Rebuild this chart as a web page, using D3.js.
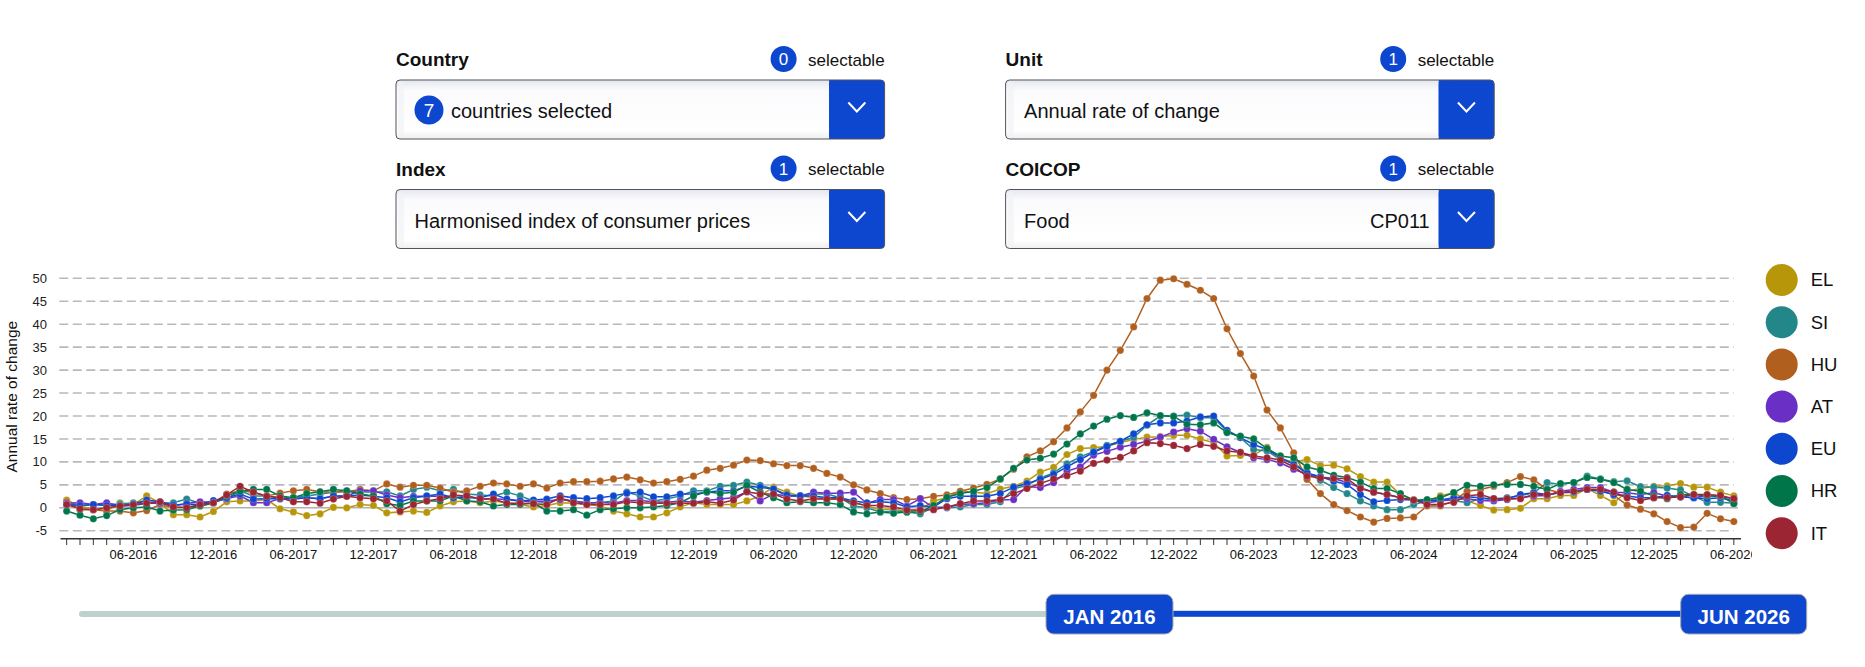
<!DOCTYPE html>
<html>
<head>
<meta charset="utf-8">
<script src="https://cdn.jsdelivr.net/npm/d3@7"></script>
<style>
  html, body { margin: 0; padding: 0; background: #fff; }
  body { width: 1865px; height: 667px; overflow: hidden; font-family: "Liberation Sans", Arial, Helvetica, sans-serif; }
  svg { display: block; }
</style>
</head>
<body>
<svg id="page" width="1865" height="667"></svg>
<script>
// ---------------- DATA ----------------
const countries = ["EL", "SI", "HU", "AT", "EU", "HR", "IT"];
const seriesColors = ["#b8960a", "#23878a", "#b05f1e", "#6a2fc4", "#0e47cf", "#00754a", "#9b2532"];
const monthStart = new Date(2016, 0, 1);
const monthEnd = new Date(2026, 6, 1);   // exclusive: Jan 2016 .. Jun 2026
const yTicks = [-5, 0, 5, 10, 15, 20, 25, 30, 35, 40, 45, 50];
const xTickLabels = ["06-2016","12-2016","06-2017","12-2017","06-2018","12-2018","06-2019","12-2019",
  "06-2020","12-2020","06-2021","12-2021","06-2022","12-2022","06-2023","12-2023","06-2024","12-2024",
  "06-2025","12-2025","06-2026"];

const EL = [
  1.7,0.3,-0.2,-0.7,1.1,0.7,2.6,1.1,-1.5,-1.5,-2.0,-0.8,
  1.3,1.5,1.5,1.8,-0.2,-0.9,-1.7,-1.3,0.1,0.0,0.7,0.5,
  -1.1,-0.9,-0.7,-1.0,0.4,1.3,1.5,1.1,1.5,1.1,0.7,0.2,
  0.5,1.1,1.0,0.7,0.4,-0.7,-1.3,-2.0,-2.0,-1.1,0.2,1.1,
  0.7,0.7,0.7,1.5,2.6,4.5,3.4,2.6,2.2,1.9,1.9,1.1,
  0.4,-0.4,-0.2,-0.9,-0.4,1.5,2.2,3.6,3.4,3.1,4.1,4.7,
  5.8,7.8,8.8,11.6,12.9,13.1,13.4,14.2,14.9,15.4,15.5,15.8,
  15.8,15.0,14.2,11.3,11.4,11.5,13.2,10.7,10.0,10.5,9.2,9.3,
  8.5,6.8,5.6,5.6,2.9,1.8,1.5,2.6,3.3,1.5,0.5,-0.5,
  -0.4,-0.1,2.0,2.0,2.7,2.7,4.2,2.7,1.1,3.6,4.2,4.7,
  4.8,5.3,4.5,4.5,3.4,2.6];
const SI = [
  0.8,0.5,0.6,0.8,0.8,1.1,1.3,1.0,1.1,1.9,1.0,1.2,
  2.0,3.7,2.6,2.6,2.2,2.2,2.6,3.0,3.4,3.7,3.5,3.4,
  3.5,2.6,4.0,4.5,3.7,4.0,3.0,2.8,2.6,3.4,2.6,1.5,
  1.1,1.9,1.5,1.1,1.1,1.5,3.4,2.6,1.5,1.9,2.6,3.7,
  3.7,4.7,4.9,5.6,4.9,4.1,2.6,2.6,3.0,3.0,2.2,0.4,
  0.0,-0.9,-0.7,-0.9,-1.3,0.1,0.0,0.2,0.7,0.7,1.3,4.1,
  4.9,6.5,7.6,9.6,11.1,12.3,13.6,14.5,15.3,18.0,20.0,20.0,
  20.2,19.6,19.6,16.7,15.3,12.7,12.4,10.5,9.8,7.6,6.0,4.4,
  3.1,1.5,0.4,-0.4,-0.4,0.7,1.5,1.8,1.6,1.1,2.0,2.0,
  2.2,2.6,3.3,5.5,5.1,5.5,6.9,6.3,5.7,5.9,4.6,4.5,
  4.3,3.9,2.5,1.2,1.2,1.0];
const HU = [
  1.3,-0.4,-0.4,-0.7,-0.7,-1.1,-0.6,0.7,0.0,0.2,0.4,1.0,
  3.0,3.7,3.4,2.6,3.2,3.7,4.0,3.5,3.4,3.5,4.0,3.7,
  5.2,4.5,4.9,4.9,4.3,3.4,3.7,4.7,5.4,5.2,4.7,5.2,
  4.3,5.4,5.7,5.7,5.8,6.3,6.7,6.1,5.4,5.7,6.2,6.9,
  8.2,8.6,9.3,10.4,10.3,9.6,9.2,9.2,8.6,7.5,6.7,5.0,
  3.9,3.1,2.2,1.8,2.0,2.5,2.8,3.6,4.3,5.1,6.3,8.4,
  11.1,12.4,14.4,17.4,20.9,24.5,30.0,34.3,39.4,45.6,49.6,49.9,
  48.7,47.4,45.6,39.0,33.6,28.7,21.3,17.4,12.0,6.2,3.1,0.7,
  -0.6,-2.0,-3.1,-2.3,-2.2,-2.0,0.4,0.4,1.5,3.6,4.0,4.7,
  5.5,6.8,6.1,4.0,3.3,3.6,4.0,4.0,2.7,0.6,-0.3,-1.3,
  -3.0,-4.3,-4.2,-1.2,-2.4,-3.0];
const AT = [
  1.0,1.1,0.7,1.1,0.4,0.5,1.0,1.0,0.4,1.0,1.3,1.2,
  2.0,2.6,1.1,1.1,2.0,2.0,2.2,2.0,2.5,2.6,3.7,3.7,
  2.8,2.2,2.5,2.5,2.5,2.2,2.5,1.9,2.0,1.8,1.5,1.3,
  1.5,1.8,1.5,1.0,1.2,1.0,1.6,1.6,1.3,1.2,1.5,1.2,
  1.6,1.9,2.2,3.5,1.5,3.0,2.6,2.6,3.4,3.2,3.2,3.4,
  1.0,1.8,1.8,0.4,2.0,0.0,0.2,0.7,0.9,1.1,1.7,1.8,
  4.7,4.4,5.5,8.0,8.9,11.5,12.3,13.2,13.8,14.5,15.4,16.5,
  17.2,16.7,14.9,13.3,12.1,10.9,10.5,9.8,8.4,7.3,6.7,6.4,
  5.5,4.4,3.4,2.9,2.2,1.6,1.1,1.5,1.8,2.0,1.6,1.5,
  1.8,2.2,2.6,2.7,3.6,4.0,4.4,4.4,3.4,3.3,2.9,3.3,
  2.6,2.4,2.2,2.7,2.4,2.0];
const EU = [
  0.7,0.5,0.7,0.5,0.5,0.8,1.7,1.3,0.6,0.8,0.7,1.6,
  2.2,3.0,1.9,2.0,2.0,1.9,2.2,2.0,2.6,2.6,2.8,2.5,
  2.2,1.3,2.2,2.6,3.0,2.2,2.2,2.2,3.0,1.9,1.5,1.7,
  1.9,2.6,2.2,2.0,2.2,2.6,3.2,3.4,2.4,2.4,3.0,3.0,
  3.4,3.7,3.7,4.7,4.5,4.1,2.8,2.6,2.6,2.2,2.2,1.5,
  1.1,1.3,1.1,0.2,0.5,0.2,2.0,2.5,2.5,2.5,3.1,4.5,
  5.3,6.2,7.3,8.9,10.5,12.1,13.4,14.5,16.1,18.1,18.5,18.5,
  18.9,19.8,20.0,16.9,15.3,13.8,12.7,11.0,9.4,7.6,6.8,5.8,
  5.1,2.9,1.3,1.6,1.8,1.7,1.5,1.7,2.2,2.4,2.2,1.8,
  2.0,2.9,3.3,2.9,3.3,3.4,4.0,3.6,2.9,2.6,2.2,2.2,
  2.7,2.4,2.2,2.0,2.2,1.5];
const HR = [
  -0.7,-1.6,-2.4,-1.7,-0.4,0.0,0.2,-0.7,-0.5,-0.4,0.4,1.1,
  2.6,3.6,4.0,4.0,2.6,2.2,3.1,3.5,4.0,3.7,3.0,2.6,
  0.9,0.5,1.5,1.5,1.5,2.6,1.5,1.3,0.4,0.7,0.7,1.1,
  -0.7,-0.7,-0.4,-1.6,-0.4,-0.2,0.0,0.0,0.2,0.5,1.1,2.6,
  3.5,3.1,3.4,4.9,3.4,2.2,1.1,1.3,1.1,1.1,0.7,-0.9,
  -1.3,-0.9,-1.2,-0.9,-0.9,0.5,2.3,3.1,3.6,4.4,6.3,8.6,
  10.4,10.8,11.7,13.9,16.1,17.8,19.3,20.1,19.7,20.7,20.1,19.9,
  18.2,18.1,18.5,16.4,15.6,15.0,12.9,11.3,10.9,8.9,8.2,7.1,
  6.6,5.6,4.2,4.2,3.1,1.6,1.8,2.2,3.3,4.9,4.7,5.0,
  5.1,5.1,4.7,4.0,5.3,5.5,6.6,6.2,5.5,4.0,3.6,2.6,
  2.0,2.9,2.9,2.6,2.6,0.9];
const IT = [
  0.7,-0.2,-0.4,0.0,0.4,0.7,1.0,1.3,0.2,0.0,0.7,1.1,
  2.8,4.7,3.4,2.5,2.2,1.3,1.3,1.0,1.9,2.5,2.2,2.0,
  1.5,-0.7,0.7,1.5,2.0,2.8,2.6,2.0,1.9,1.0,1.0,0.9,
  0.7,2.2,1.1,0.7,0.7,0.7,1.3,1.1,1.0,1.0,1.0,1.0,
  1.3,1.0,1.7,3.5,3.0,3.0,1.9,1.5,2.0,1.9,1.9,1.1,
  0.5,0.5,0.2,-0.5,-0.5,-0.4,0.2,0.9,1.5,1.5,1.8,3.1,
  4.2,5.3,6.3,7.0,8.0,9.7,10.4,11.0,12.4,14.2,14.0,13.6,
  12.9,13.8,13.4,12.4,12.1,11.3,10.9,10.4,8.9,6.9,6.5,6.4,
  6.4,4.2,3.4,2.9,2.2,1.7,0.7,0.7,1.2,2.6,2.9,2.0,
  2.0,2.0,2.9,2.9,3.3,3.6,4.0,4.0,3.4,2.2,1.6,2.2,
  2.2,2.4,2.9,2.9,2.7,2.0];
const seriesValues = [EL, SI, HU, AT, EU, HR, IT];

// UI texts
const filters = [
  { label: "Country", count: "0", badge: "7", value: "countries selected", code: "" },
  { label: "Unit", count: "1", badge: null, value: "Annual rate of change", code: "" },
  { label: "Index", count: "1", badge: null, value: "Harmonised index of consumer prices", code: "" },
  { label: "COICOP", count: "1", badge: null, value: "Food", code: "CP011" }
];
const sliderLabels = ["JAN 2016", "JUN 2026"];
const yTitle = "Annual rate of change";

// ---------------- DRAW ----------------
const FONT = '"Liberation Sans", Arial, Helvetica, sans-serif';
const BLUE = "#0e47cf";
const svg = d3.select("#page").style("font-family", FONT);
const defs = svg.append("defs");

// box background gradient (inset look)
const g1 = defs.append("linearGradient").attr("id", "boxGrad").attr("x1", 0).attr("y1", 0).attr("x2", 0).attr("y2", 1);
g1.append("stop").attr("offset", "0%").attr("stop-color", "#e4e7ee");
g1.append("stop").attr("offset", "18%").attr("stop-color", "#fbfbfd");
g1.append("stop").attr("offset", "85%").attr("stop-color", "#ffffff");
g1.append("stop").attr("offset", "100%").attr("stop-color", "#eeeeef");

// ---- filters ----
const colX = [396, 1005.6];
const rowY = [0, 109.5];
const boxW = 488.6, boxH = 59, btnW = 55.5;
filters.forEach((f, k) => {
  const col = k % 2, row = Math.floor(k / 2);
  const x0 = colX[col], dy = rowY[row];
  const g = svg.append("g");
  g.append("text").attr("x", x0).attr("y", 66 + dy).attr("font-size", 19).attr("font-weight", "bold")
    .attr("fill", "#111").text(f.label);
  g.append("text").attr("x", x0 + boxW).attr("y", 65.5 + dy).attr("font-size", 17).attr("text-anchor", "end")
    .attr("fill", "#111").text("selectable");
  g.append("circle").attr("cx", x0 + boxW - 101).attr("cy", 59 + dy).attr("r", 13).attr("fill", BLUE);
  g.append("text").attr("x", x0 + boxW - 101).attr("y", 65 + dy).attr("font-size", 17).attr("text-anchor", "middle")
    .attr("fill", "#fff").text(f.count);
  const by = 80 + dy;
  g.append("rect").attr("x", x0).attr("y", by).attr("width", boxW).attr("height", boxH).attr("rx", 4)
    .attr("fill", "url(#boxGrad)");
  g.append("rect").attr("x", x0 + 2).attr("y", by + 2).attr("width", 6).attr("height", boxH - 4)
    .attr("fill", "#f1f2f5").attr("opacity", 0.7);
  g.append("rect").attr("x", x0 + boxW - btnW).attr("y", by).attr("width", btnW).attr("height", boxH).attr("rx", 4).attr("fill", BLUE);
  g.append("rect").attr("x", x0 + boxW - btnW).attr("y", by).attr("width", 10).attr("height", boxH).attr("fill", BLUE);
  g.append("rect").attr("x", x0).attr("y", by).attr("width", boxW).attr("height", boxH).attr("rx", 4)
    .attr("fill", "none").attr("stroke", "#50535a").attr("stroke-width", 1);
  const cx = x0 + boxW - btnW / 2, cy = by + 27;
  g.append("path").attr("d", `M${cx - 8.5},${cy - 4.5} L${cx},${cy + 4.5} L${cx + 8.5},${cy - 4.5}`)
    .attr("fill", "none").attr("stroke", "#fff").attr("stroke-width", 2);
  let tx = x0 + 18.5;
  if (f.badge) {
    g.append("circle").attr("cx", x0 + 33).attr("cy", by + 30).attr("r", 14.5).attr("fill", BLUE);
    g.append("text").attr("x", x0 + 33).attr("y", by + 37).attr("font-size", 19).attr("text-anchor", "middle")
      .attr("fill", "#fff").text(f.badge);
    tx = x0 + 55;
  }
  g.append("text").attr("x", tx).attr("y", by + 38).attr("font-size", 20).attr("fill", "#111").text(f.value);
  if (f.code) {
    g.append("text").attr("x", x0 + boxW - btnW - 9).attr("y", by + 38).attr("font-size", 20)
      .attr("text-anchor", "end").attr("fill", "#111").text(f.code);
  }
});

// ---- chart ----
defs.append("clipPath").attr("id", "chartClip").append("rect")
  .attr("x", 0).attr("y", 250).attr("width", 1752).attr("height", 330);
const chart = svg.append("g").attr("clip-path", "url(#chartClip)");

const months = d3.timeMonth.range(monthStart, monthEnd);
const x = d3.scaleBand().domain(months).range([60, 1740.5]).padding(0);
const bw = x.bandwidth();
const cxOf = d => x(d) + bw / 2;
const y = d3.scaleLinear().domain([-6.64, 50]).range([538.3, 278.3]);
const gx0 = 59.3, gx1 = cxOf(months[months.length - 1]);

// gridlines
chart.append("g").selectAll("line").data(yTicks.filter(v => v !== 0)).join("line")
  .attr("x1", gx0).attr("x2", gx1).attr("y1", d => y(d)).attr("y2", d => y(d))
  .attr("stroke", "#b9b9bd").attr("stroke-width", 1.6).attr("stroke-dasharray", "9,4.5");
chart.append("line").attr("x1", gx0).attr("x2", 1738).attr("y1", y(0)).attr("y2", y(0))
  .attr("stroke", "#b0b0b4").attr("stroke-width", 1.5);

// y tick labels
chart.append("g").selectAll("text").data(yTicks).join("text")
  .attr("x", 47).attr("y", d => y(d)).attr("dy", "0.35em").attr("text-anchor", "end")
  .attr("font-size", 13).attr("fill", "#222").text(d => d);

// y title
chart.append("text").attr("transform", `translate(17.3,396.7) rotate(-90)`)
  .attr("text-anchor", "middle").attr("font-size", 15.5).attr("fill", "#111").text(yTitle);

// x axis
const fmt = d3.timeFormat("%m-%Y");
const xAxis = d3.axisBottom(x).tickSizeOuter(0).tickSizeInner(6.7).tickPadding(5)
  .tickFormat(d => xTickLabels.includes(fmt(d)) ? fmt(d) : "");
const ax = chart.append("g").attr("transform", "translate(0,538.3)").call(xAxis);
ax.select(".domain").attr("stroke", "#333").attr("stroke-width", 1.6);
ax.selectAll(".tick line").attr("stroke", "#333");
ax.selectAll(".tick text").attr("font-size", 13).attr("fill", "#111").attr("font-family", FONT);

// series
const line = d3.line().x((d, i) => cxOf(months[i])).y(d => y(d));
seriesValues.forEach((vals, k) => {
  const g = chart.append("g");
  g.append("path").datum(vals).attr("d", line).attr("fill", "none")
    .attr("stroke", seriesColors[k]).attr("stroke-width", 1.5);
  g.selectAll("circle").data(vals).join("circle")
    .attr("cx", (d, i) => cxOf(months[i])).attr("cy", d => y(d)).attr("r", 3.6)
    .attr("fill", seriesColors[k]).attr("stroke", "#fff").attr("stroke-opacity", 0.35).attr("stroke-width", 0.6);
});

// legend
const lg = svg.append("g");
countries.forEach((c, k) => {
  const cy = 280 + k * 42.2;
  lg.append("circle").attr("cx", 1781.7).attr("cy", cy).attr("r", 16).attr("fill", seriesColors[k]);
  lg.append("text").attr("x", 1810.7).attr("y", cy).attr("dy", "0.35em").attr("font-size", 18.5)
    .attr("fill", "#111").text(c);
});

// ---- slider ----
const sl = svg.append("g");
sl.append("rect").attr("x", 79).attr("y", 611).attr("width", 1046 - 79 + 10).attr("height", 6).attr("rx", 3)
  .attr("fill", "#bdd1cf");
sl.append("rect").attr("x", 1165).attr("y", 610.8).attr("width", 1690 - 1165).attr("height", 6)
  .attr("fill", BLUE);
const btns = [{ x: 1046, w: 127 }, { x: 1680.7, w: 126 }];
btns.forEach((b, k) => {
  sl.append("rect").attr("x", b.x).attr("y", 594.3).attr("width", b.w).attr("height", 39.7).attr("rx", 8)
    .attr("fill", BLUE).attr("stroke", "#a8a8ac").attr("stroke-width", 1);
  sl.append("text").attr("x", b.x + b.w / 2).attr("y", 624).attr("text-anchor", "middle")
    .attr("font-size", 20.5).attr("font-weight", "bold").attr("fill", "#fff").text(sliderLabels[k]);
});
</script>
</body>
</html>
